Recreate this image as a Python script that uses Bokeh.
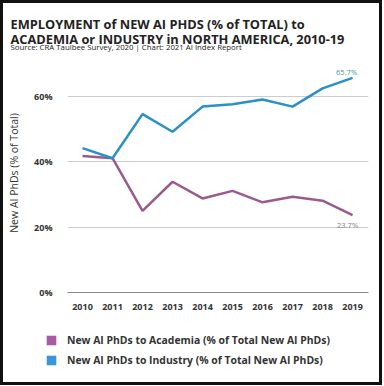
from bokeh.plotting import figure
from bokeh.layouts import column
from bokeh.models import Label, Legend, LegendItem, FixedTicker, ColumnDataSource, Range1d, Plot
from bokeh.embed import file_html
from bokeh.resources import INLINE

years = [2010, 2011, 2012, 2013, 2014, 2015, 2016, 2017, 2018, 2019]
academia = [41.8, 41.1, 25.0, 33.9, 28.8, 31.1, 27.6, 29.3, 28.1, 23.7]
industry = [44.2, 41.1, 54.6, 49.2, 56.9, 57.6, 59.1, 56.9, 62.5, 65.7]
y_ticks = [0, 20, 40, 60]
series_names = ["New AI PhDs to Academia (% of Total New AI PhDs)",
                "New AI PhDs to Industry (% of Total New AI PhDs)"]
title1 = "EMPLOYMENT of NEW AI PHDS (% of TOTAL) to"
title2 = "ACADEMIA or INDUSTRY in NORTH AMERICA, 2010-19"
source = "Source: CRA Taulbee Survey, 2020 | Chart: 2021 AI Index Report"

FONT = "Open Sans"
AC_LINE = "#9a5b8c"
IN_LINE = "#2a90c8"
AC_SW = "#a65ca0"
IN_SW = "#3a96d8"
W = 382
BL, BR = 67, 14            # chart frame borders (left / right)
H_HEAD, H_CHART, H_LEG = 53, 265, 67

HAS_FA = "frame_align" in Plot.properties()
if HAS_FA:
    HEAD_SHIFT, LEG_SHIFT, TITLE_SIZE = 0, 0, "12.8px"
    HEAD_X, LEG_X = 10, 45
else:
    HEAD_SHIFT, LEG_SHIFT, TITLE_SIZE = BL - 10, BL - 45, "11.6px"
    HEAD_X, LEG_X = 0, 0


def blank(w, h, shift):
    f = figure(width=w, height=h, output_backend="svg", toolbar_location=None,
               x_axis_location=None, y_axis_location=None, min_border=0,
               x_range=Range1d(0, 1), y_range=Range1d(0, 1))
    f.outline_line_color = None
    f.border_fill_color = None
    f.background_fill_color = None
    f.xgrid.visible = False
    f.ygrid.visible = False
    if HAS_FA:
        f.frame_align = False
    if shift:
        f.styles = {"margin-left": f"-{shift}px"}
    return f


# ---- header ----
head = blank(W + HEAD_SHIFT, H_HEAD, HEAD_SHIFT)
for txt, yy, sz, st in [(title1, H_HEAD - 23, TITLE_SIZE, "bold"),
                        (title2, H_HEAD - 38, TITLE_SIZE, "bold"),
                        (source, H_HEAD - 46.5, "7.8px", "normal")]:
    head.add_layout(Label(x=HEAD_X, y=yy, x_units="screen", y_units="screen", text=txt,
                          text_font=FONT, text_font_size=sz, text_font_style=st,
                          text_color="#222222", text_baseline="alphabetic"))

# ---- chart ----
p = figure(width=W, height=H_CHART, output_backend="svg", toolbar_location=None,
           x_range=(2009.5, 2019.53), y_range=(0, 73.16),
           min_border_left=BL, min_border_right=BR, min_border_top=0,
           min_border_bottom=26)
p.outline_line_color = None
p.border_fill_color = None
p.background_fill_color = None

p.line(years, academia, line_color=AC_LINE, line_width=2.5)
p.line(years, industry, line_color=IN_LINE, line_width=2.5)

p.xaxis.ticker = FixedTicker(ticks=years)
p.xaxis.major_label_text_font = FONT
p.xaxis.major_label_text_font_style = "bold"
p.xaxis.major_label_text_font_size = "9px"
p.xaxis.major_label_text_color = "#333333"
p.xaxis.axis_line_color = "#888888"
p.xaxis.major_tick_line_color = None
p.xaxis.minor_tick_line_color = None
p.xaxis.major_label_standoff = 5

p.yaxis.ticker = FixedTicker(ticks=y_ticks)
p.yaxis.major_label_overrides = {v: f"{v}%" for v in y_ticks}
p.yaxis.major_label_text_font = FONT
p.yaxis.major_label_text_font_style = "bold"
p.yaxis.major_label_text_font_size = "9px"
p.yaxis.major_label_text_color = "#333333"
p.yaxis.axis_line_color = None
p.yaxis.major_tick_line_color = None
p.yaxis.minor_tick_line_color = None
p.yaxis.major_label_standoff = 9
p.yaxis.axis_label = "New AI PhDs (% of Total)"
p.yaxis.axis_label_text_font = FONT
p.yaxis.axis_label_text_font_size = "10.5px"
p.yaxis.axis_label_text_font_style = "normal"
p.yaxis.axis_label_text_color = "#333333"
p.yaxis.axis_label_standoff = 10

p.xgrid.grid_line_color = None
p.ygrid.ticker = FixedTicker(ticks=y_ticks)
p.ygrid.grid_line_color = "#cccccc"
p.ygrid.grid_line_width = 1

p.add_layout(Label(x=years[-1], y=industry[-1], text=f"{industry[-1]}%", text_font=FONT,
                   text_font_size="7.5px", text_color="#3a9a9a", text_align="center",
                   text_baseline="middle", x_offset=-6, y_offset=6))
p.add_layout(Label(x=years[-1], y=academia[-1], text=f"{academia[-1]}%", text_font=FONT,
                   text_font_size="7.5px", text_color="#8a7a8a", text_align="center",
                   text_baseline="middle", x_offset=-5, y_offset=-10))

# ---- legend ----
leg = blank(W + LEG_SHIFT, H_LEG, LEG_SHIFT)
# one proxy row placed outside the visible range, only to give the legend its swatch colours
src_l = ColumnDataSource(dict(l=[5], r=[6], b=[5], t=[6]))
r_ac = leg.quad(left="l", right="r", bottom="b", top="t", source=src_l, fill_color=AC_SW, line_color=None)
r_in = leg.quad(left="l", right="r", bottom="b", top="t", source=src_l, fill_color=IN_SW, line_color=None)
legend = Legend(items=[LegendItem(label=series_names[0], renderers=[r_ac]),
                       LegendItem(label=series_names[1], renderers=[r_in])],
                location=(LEG_X, 18), background_fill_alpha=0, border_line_color=None,
                label_text_font=FONT, label_text_font_size="10.4px", label_text_font_style="bold",
                label_text_color="#333333", glyph_width=12, glyph_height=12, spacing=6,
                label_standoff=10, padding=0, margin=0, label_height=12)
leg.add_layout(legend, "center")

page = column(head, p, leg, spacing=0)
page.styles = {"outline": "3px solid #111111", "outline-offset": "-3px"}

open("out.html", "w").write(file_html(page, INLINE))
